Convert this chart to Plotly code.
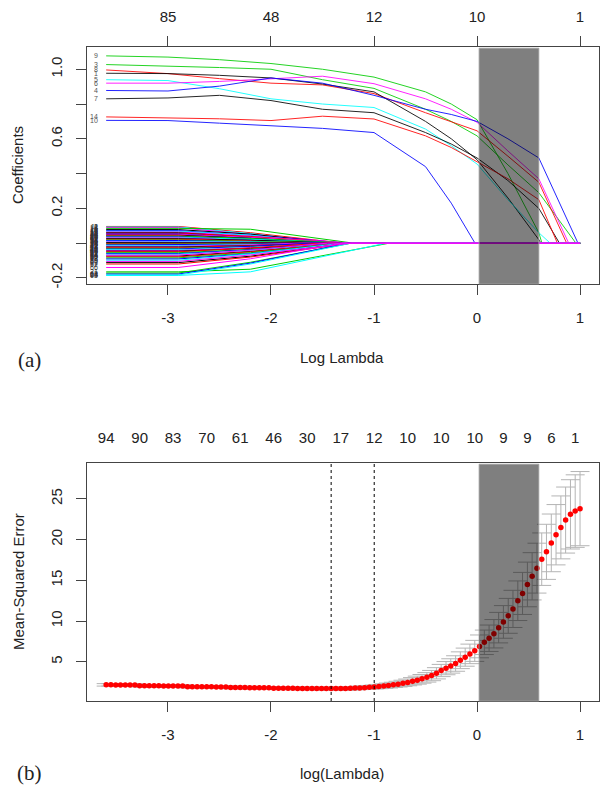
import plotly.graph_objects as go

# grid of log(lambda) values used by the cross-validation fit
log_lambda = [
    -3.600, -3.554, -3.507, -3.461, -3.414, -3.368, -3.321, -3.275, -3.228, -3.182,
    -3.135, -3.089, -3.042, -2.996, -2.950, -2.903, -2.857, -2.810, -2.764, -2.717,
    -2.671, -2.624, -2.578, -2.531, -2.485, -2.438, -2.392, -2.346, -2.299, -2.253,
    -2.206, -2.160, -2.113, -2.067, -2.020, -1.974, -1.927, -1.881, -1.834, -1.788,
    -1.742, -1.695, -1.649, -1.602, -1.556, -1.509, -1.463, -1.416, -1.370, -1.323,
    -1.277, -1.230, -1.184, -1.138, -1.091, -1.045, -0.998, -0.952, -0.905, -0.859,
    -0.812, -0.766, -0.719, -0.673, -0.626, -0.580, -0.534, -0.487, -0.441, -0.394,
    -0.348, -0.301, -0.255, -0.208, -0.162, -0.115, -0.069, -0.022, 0.024, 0.071,
    0.117, 0.164, 0.210, 0.256, 0.303, 0.349, 0.396, 0.442, 0.489, 0.535,
    0.582, 0.628, 0.674, 0.721, 0.767, 0.814, 0.860, 0.907, 0.953, 1.000,
]
cv_mse = [
    2.18, 2.18, 2.17, 2.17, 2.17, 2.16, 2.16, 2.08, 2.07, 2.07,
    2.06, 2.06, 2.05, 2.05, 2.04, 2.04, 2.03, 1.96, 1.96, 1.95,
    1.95, 1.94, 1.94, 1.93, 1.93, 1.92, 1.86, 1.86, 1.85, 1.85,
    1.84, 1.84, 1.83, 1.83, 1.82, 1.76, 1.76, 1.75, 1.75, 1.75,
    1.74, 1.74, 1.74, 1.73, 1.73, 1.73, 1.72, 1.72, 1.72, 1.73,
    1.74, 1.76, 1.78, 1.81, 1.84, 1.88, 1.92, 1.97, 2.03, 2.10,
    2.18, 2.27, 2.37, 2.48, 2.62, 2.76, 2.92, 3.10, 3.32, 3.60,
    3.94, 4.23, 4.50, 4.80, 5.20, 5.58, 5.98, 6.35, 6.90, 7.40,
    7.90, 8.45, 9.20, 9.90, 10.65, 11.50, 12.50, 13.40, 14.50, 15.50,
    16.50, 17.60, 18.50, 19.60, 20.60, 21.50, 22.40, 23.10, 23.50, 23.80,
]
cv_sd = [
    0.15, 0.15, 0.15, 0.15, 0.15, 0.15, 0.15, 0.15, 0.15, 0.15,
    0.15, 0.15, 0.15, 0.15, 0.15, 0.15, 0.15, 0.15, 0.15, 0.15,
    0.15, 0.15, 0.15, 0.15, 0.15, 0.15, 0.15, 0.15, 0.15, 0.15,
    0.15, 0.15, 0.15, 0.15, 0.15, 0.15, 0.15, 0.15, 0.15, 0.15,
    0.15, 0.15, 0.15, 0.15, 0.16, 0.16, 0.16, 0.17, 0.18, 0.18,
    0.19, 0.20, 0.20, 0.21, 0.22, 0.23, 0.24, 0.26, 0.28, 0.30,
    0.32, 0.35, 0.38, 0.41, 0.45, 0.49, 0.53, 0.58, 0.63, 0.69,
    0.75, 0.81, 0.88, 0.95, 1.03, 1.11, 1.20, 1.29, 1.40, 1.50,
    1.62, 1.74, 1.87, 2.00, 2.14, 2.28, 2.43, 2.58, 2.74, 2.90,
    3.06, 3.22, 3.38, 3.54, 3.70, 3.86, 4.05, 4.25, 4.45, 4.55,
]
nzero_idx = [0, 7, 14, 21, 28, 35, 42, 49, 56, 63, 70, 77, 83, 88, 93, 98]
nzero_lbl = ["94", "90", "83", "70", "61", "46", "30", "17", "12", "10", "10", "10", "9", "9", "6", "1"]
lambda_min = -1.416
lambda_1se = -0.998
shade_band = [0.02, 0.60]

# coefficient paths (upper panel)
x_ticks = [-3, -2, -1, 0, 1]
x_ticktext = ["-3", "-2", "-1", "0", "1"]
top_counts = ["85", "48", "12", "10", "1"]
knot_x = [-3.6, -3.0, -2.5, -2.0, -1.5, -1.0, -0.5, -0.25, 0.0, 0.3, 0.6]
big_ids = [9, 3, 8, 1, 5, 6, 4, 7, 14, 10]
big_paths = [
    [1.077, 1.070, 1.055, 1.033, 1.000, 0.955, 0.870, 0.800, 0.710, 0.400, 0.060],
    [1.027, 1.020, 1.010, 1.000, 0.940, 0.890, 0.770, 0.700, 0.617, 0.450, 0.290],
    [0.996, 0.975, 0.946, 0.920, 0.910, 0.860, 0.750, 0.700, 0.646, 0.500, 0.350],
    [0.977, 0.975, 0.965, 0.950, 0.915, 0.870, 0.700, 0.600, 0.480, 0.260, 0.020],
    [0.940, 0.935, 0.888, 0.830, 0.800, 0.780, 0.656, 0.560, 0.455, 0.250, 0.060],
    [0.920, 0.920, 0.930, 0.946, 0.960, 0.917, 0.830, 0.770, 0.695, 0.530, 0.370],
    [0.878, 0.875, 0.903, 0.950, 0.920, 0.850, 0.770, 0.740, 0.700, 0.600, 0.490],
    [0.830, 0.835, 0.850, 0.820, 0.770, 0.750, 0.636, 0.570, 0.490, 0.360, 0.200],
    [0.726, 0.720, 0.715, 0.705, 0.730, 0.714, 0.617, 0.550, 0.470, 0.370, 0.250],
    [0.706, 0.705, 0.690, 0.675, 0.660, 0.636, 0.440, 0.230, 0.000, 0.000, 0.000],
]
big_zero_at = [0.63, 0.96, 0.87, 0.62, 0.71, 0.89, 0.98, 0.80, 0.78, -0.02]

small_ids = [2, 11, 12, 15, 13, 16, 17, 18, 19, 20, 22, 24, 25, 26, 27, 28, 29, 30, 31, 32,
             33, 34, 35, 36, 37, 38, 39, 40, 41, 42, 43, 44, 45, 46, 47, 48, 49, 50, 51, 52,
             53, 54, 55, 56, 57, 58, 59, 60, 61, 62, 21, 63, 64, 23, 65, 66]
small_start = [0.096, 0.093, 0.089, 0.085, 0.078, 0.072, 0.068, 0.064, 0.060, 0.057,
               0.053, 0.050, 0.046, 0.043, 0.040, 0.036, 0.033, 0.030, 0.026, 0.022,
               0.018, 0.015, 0.011, 0.007, 0.003, -0.002, -0.006, -0.010, -0.014, -0.018,
               -0.022, -0.026, -0.030, -0.034, -0.038, -0.042, -0.046, -0.050, -0.055, -0.060,
               -0.064, -0.069, -0.074, -0.079, -0.085, -0.091, -0.098, -0.105, -0.112, -0.120,
               -0.165, -0.172, -0.178, -0.183, -0.186, -0.140]
small_mid = [0.060, 0.055, 0.050, 0.080, 0.052, 0.045, 0.046, 0.040, 0.035, 0.038,
             0.030, 0.033, 0.028, 0.022, 0.027, 0.020, 0.022, 0.015, 0.017, 0.012,
             0.010, 0.006, 0.007, 0.004, 0.002, -0.001, -0.004, -0.006, -0.009, -0.010,
             -0.014, -0.015, -0.020, -0.018, -0.025, -0.026, -0.030, -0.028, -0.036, -0.038,
             -0.042, -0.040, -0.048, -0.050, -0.055, -0.060, -0.062, -0.068, -0.075, -0.080,
             -0.150, -0.110, -0.115, -0.120, -0.165, -0.090]
small_zero_at = [-1.30, -1.40, -1.25, -1.20, -1.35, -1.28, -1.45, -1.22, -1.55, -1.30,
                 -1.60, -1.25, -1.40, -1.70, -1.22, -1.50, -1.30, -1.80, -1.25, -1.45,
                 -1.30, -1.90, -1.35, -1.50, -1.60, -1.40, -1.30, -1.55, -1.25, -1.70,
                 -1.30, -1.45, -1.22, -1.60, -1.28, -1.40, -1.25, -1.50, -1.22, -1.35,
                 -1.25, -1.45, -1.22, -1.30, -1.22, -1.25, -1.30, -1.22, -1.25, -1.22,
                 -0.85, -1.22, -1.25, -1.22, -0.88, -1.30]
# these are drawn last, so the shared zero line comes out magenta like in R
zero_line_ids = [54, 60, 66]

palette = ["#000000", "#FF0000", "#00CD00", "#0000FF", "#00FFFF", "#FF00FF"]
FONT = "Liberation Sans, Arial, sans-serif"


def path_color(var_id):
    return palette[(var_id - 1) % 6]


def clip_path(xs, ys, zero_at):
    px = [x for x in xs if x < zero_at]
    py = ys[:len(px)]
    return px + [zero_at, 1.0], py + [0.0, 0.0]


fig = go.Figure()

for var_id, vals, z in zip(big_ids, big_paths, big_zero_at):
    xs, ys = clip_path(knot_x, vals, z)
    fig.add_trace(go.Scatter(x=xs, y=ys, mode="lines", xaxis="x", yaxis="y", opacity=0.85,
                             line=dict(color=path_color(var_id), width=1), hoverinfo="skip"))

small_rows = sorted(zip(small_ids, small_start, small_mid, small_zero_at),
                    key=lambda r: r[0] in zero_line_ids)
for var_id, v0, vm, z in small_rows:
    xs, ys = clip_path([-3.6, -2.9, -2.2], [v0, v0, vm], z)
    fig.add_trace(go.Scatter(x=xs, y=ys, mode="lines", xaxis="x", yaxis="y",
                             line=dict(color=path_color(var_id), width=1), hoverinfo="skip"))

# dummy traces so the overlaid top axes are drawn
fig.add_trace(go.Scatter(x=[None], y=[None], xaxis="x3", yaxis="y"))
fig.add_trace(go.Scatter(x=[None], y=[None], xaxis="x4", yaxis="y2"))

fig.add_trace(go.Scatter(
    x=log_lambda, y=cv_mse, mode="markers", xaxis="x2", yaxis="y2",
    marker=dict(color="#FF0000", size=5.5),
    error_y=dict(type="data", array=cv_sd, color="#b4b4b4", thickness=1, width=9.5),
    hoverinfo="skip"))

shapes = []
for xr, yr in (("x", "y domain"), ("x2", "y2 domain")):
    shapes.append(dict(type="rect", xref=xr, yref=yr, x0=shade_band[0], x1=shade_band[1],
                       y0=0, y1=0.995, fillcolor="rgba(0,0,0,0.5)",
                       line=dict(color="rgba(160,160,160,0.8)", width=1), layer="above"))
for xv in (lambda_min, lambda_1se):
    shapes.append(dict(type="line", xref="x2", yref="y2 domain", x0=xv, x1=xv, y0=0, y1=1,
                       line=dict(color="black", width=1, dash="dot")))

annotations = []
for var_id, v0 in zip(big_ids, [p[0] for p in big_paths]):
    annotations.append(dict(x=-3.66, y=v0, xref="x", yref="y", text=str(var_id), showarrow=False,
                            xanchor="right", font=dict(size=7, color="#555", family=FONT)))
for var_id, v0 in zip(small_ids, small_start):
    annotations.append(dict(x=-3.66, y=v0, xref="x", yref="y", text=str(var_id), showarrow=False,
                            xanchor="right", font=dict(size=7, color="#333", family=FONT)))

text_font = dict(size=15, color="#222", family=FONT)
paren_font = dict(size=21, color="#222", family="Liberation Serif, Times New Roman, serif")
labels = [
    ("Log Lambda", 342, 357, 0, text_font),
    ("Coefficients", 18, 165, -90, text_font),
    ("(a)", 29, 360, 0, paren_font),
    ("log(Lambda)", 342, 773, 0, text_font),
    ("Mean-Squared Error", 18, 582, -90, text_font),
    ("(b)", 29, 773, 0, paren_font),
]
for txt, px, py, ang, fnt in labels:
    annotations.append(dict(x=px / 613, y=1 - py / 804, xref="paper", yref="paper", text=txt,
                            showarrow=False, textangle=ang, xanchor="center", yanchor="middle",
                            font=fnt))

x_dom = [87 / 613, 599 / 613]
x_range = [-3.786, 1.184]
frame = dict(showline=True, linecolor="#444", linewidth=1, mirror=True, showgrid=False,
             zeroline=False, ticks="outside", ticklen=10, tickcolor="#444",
             tickfont=dict(size=15, color="#222", family=FONT))

fig.update_layout(
    width=613, height=804, showlegend=False,
    paper_bgcolor="white", plot_bgcolor="white",
    margin=dict(l=0, r=0, t=0, b=0, autoexpand=False),
    xaxis=dict(domain=x_dom, anchor="y", range=x_range, tickvals=x_ticks, ticktext=x_ticktext,
               ticklabelstandoff=10, **frame),
    yaxis=dict(domain=[1 - 284 / 804, 1 - 47 / 804], anchor="x", range=[-0.235, 1.128],
               tickvals=[-0.2, 0.0, 0.2, 0.4, 0.6, 0.8, 1.0],
               ticktext=["-0.2", "", "0.2", "", "0.6", "", "1.0"],
               tickangle=-90, ticklabelstandoff=8, **frame),
    xaxis3=dict(overlaying="x", side="top", anchor="y", range=x_range, tickvals=x_ticks,
                ticktext=top_counts, ticks="outside", ticklen=10, tickcolor="#444",
                showgrid=False, zeroline=False, showline=False, ticklabelstandoff=8,
                tickfont=dict(size=15, color="#222", family=FONT)),
    xaxis2=dict(domain=x_dom, anchor="y2", range=x_range, tickvals=x_ticks, ticktext=x_ticktext,
                ticklabelstandoff=10, **frame),
    yaxis2=dict(domain=[1 - 701 / 804, 1 - 463 / 804], anchor="x2", range=[0.2, 29.4],
                tickvals=[5, 10, 15, 20, 25], tickangle=-90, ticklabelstandoff=8, **frame),
    xaxis4=dict(overlaying="x2", side="top", anchor="y2", range=x_range,
                tickvals=[log_lambda[i] for i in nzero_idx], ticktext=nzero_lbl,
                ticks="", showgrid=False, zeroline=False, showline=False, ticklabelstandoff=16,
                tickfont=dict(size=15, color="#222", family=FONT)),
    shapes=shapes,
    annotations=annotations,
)

fig.write_html("out.html", config={"displayModeBar": False},
               post_script="document.body.style.margin='0';")
